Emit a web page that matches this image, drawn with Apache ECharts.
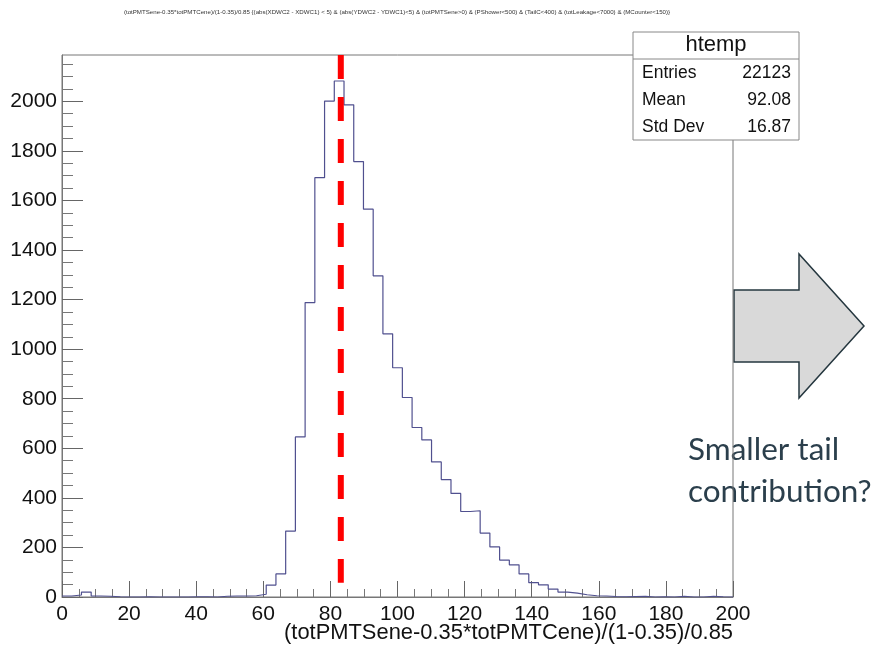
<!DOCTYPE html>
<html>
<head>
<meta charset="utf-8">
<script src="https://cdn.jsdelivr.net/npm/echarts@6/dist/echarts.min.js"></script>
<style>
  html, body { margin: 0; padding: 0; background: #ffffff; }
  #chart { width: 880px; height: 646px; }
</style>
</head>
<body>
<div id="chart"></div>
<script>
// Histogram definition: 69 equal bins spanning 0..200
const xRange = [0, 200];
const binCounts = [
  4, 8, 20, 4, 3, 1, 0, 0, 1, 0,
  0, 0, 0, 1, 1, 0, 3, 4, 4, 5,
  11, 48, 93, 266, 646, 1188, 1692, 2001, 2082, 1986,
  1757, 1565, 1296, 1062, 925, 805, 684, 634, 545, 474,
  418, 345, 348, 258, 202, 149, 130, 93, 58, 49,
  32, 20, 16, 9, 5, 4, 2, 1, 2, 3,
  0, 1, 0, 3, 0, 0, 3, 1, 0
];
const yMax = 2187;

// Axis tick labels
const xTickLabels = [0, 20, 40, 60, 80, 100, 120, 140, 160, 180, 200];
const yTickLabels = [0, 200, 400, 600, 800, 1000, 1200, 1400, 1600, 1800, 2000];

// Vertical marker at the peak position
const peakMarkerX = 83.1;
const peakMarkerBottom = 58;

// Statistics box
const statsTitle = 'htemp';
const statsLabels = ['Entries', 'Mean', 'Std Dev'];
const statsValues = ['22123', '92.08', '16.87'];

const plotTitle = '(totPMTSene-0.35*totPMTCene)/(1-0.35)/0.85 {(abs(XDWC2 - XDWC1) < 5) & (abs(YDWC2 - YDWC1)<5) & (totPMTSene>0) & (PShower<500) & (TailC<400) & (totLeakage<7000) & (MCounter<150)}';
const xAxisTitle = '(totPMTSene-0.35*totPMTCene)/(1-0.35)/0.85';
const noteLines = ['Smaller tail', 'contribution?'];

// Step outline points at the bin edges
const binWidth = (xRange[1] - xRange[0]) / binCounts.length;
const histPoints = binCounts.map((c, i) => [xRange[0] + i * binWidth, c]);
histPoints.push([xRange[1], binCounts[binCounts.length - 1]]);

// Minor ticks on the y axis every 50
const yMinorTicks = [];
for (let v = 50; v < yMax; v += 50) {
  if (v % 200 !== 0) yMinorTicks.push(v);
}

const FONT = 'Liberation Sans';
const AXIS_GREY = '#777777';

const chart = echarts.init(document.getElementById('chart'), null, { renderer: 'canvas' });

const statsBox = { left: 633, top: 32, right: 799, bottom: 140, sep: 59 };
const statsRowsY = [73, 100, 127];

const graphics = [
  {
    type: 'text', x: 397, y: 12, z: 10,
    style: { text: plotTitle, fontSize: 6.15, fontFamily: FONT, fill: '#333', align: 'center', verticalAlign: 'middle' }
  },
  {
    type: 'text', x: 733, y: 633, z: 10,
    style: { text: xAxisTitle, fontSize: 21.9, fontFamily: FONT, fill: '#111', align: 'right', verticalAlign: 'middle' }
  },
  // Block arrow
  {
    type: 'polygon', z: -1,
    shape: { points: [[734, 290], [799, 290], [799, 254], [864, 326], [799, 398], [799, 362], [734, 362]] },
    style: { fill: '#d9d9d9', stroke: '#25373f', lineWidth: 1.5 }
  },
  {
    type: 'text', x: 688, y: 450, z: -1,
    style: { text: noteLines[0], fontSize: 31.5, fontFamily: 'Lato', fill: '#2b3f4c', align: 'left', verticalAlign: 'middle' }
  },
  {
    type: 'text', x: 688, y: 492, z: -1,
    style: { text: noteLines[1], fontSize: 31.5, fontFamily: 'Lato', fill: '#2b3f4c', align: 'left', verticalAlign: 'middle' }
  },
  // Statistics box
  {
    type: 'rect', z: 100,
    shape: { x: statsBox.left, y: statsBox.top, width: statsBox.right - statsBox.left, height: statsBox.bottom - statsBox.top },
    style: { fill: '#ffffff', stroke: '#888888', lineWidth: 1 }
  },
  {
    type: 'line', z: 101,
    shape: { x1: statsBox.left, y1: statsBox.sep, x2: statsBox.right, y2: statsBox.sep },
    style: { stroke: '#888888', lineWidth: 1 }
  },
  {
    type: 'text', x: (statsBox.left + statsBox.right) / 2, y: 45, z: 101,
    style: { text: statsTitle, fontSize: 22, fontFamily: FONT, fill: '#111', align: 'center', verticalAlign: 'middle' }
  }
];
statsLabels.forEach((lab, i) => {
  graphics.push({
    type: 'text', x: 642, y: statsRowsY[i], z: 101,
    style: { text: lab, fontSize: 17.5, fontFamily: FONT, fill: '#111', align: 'left', verticalAlign: 'middle' }
  });
  graphics.push({
    type: 'text', x: 791, y: statsRowsY[i], z: 101,
    style: { text: statsValues[i], fontSize: 17.5, fontFamily: FONT, fill: '#111', align: 'right', verticalAlign: 'middle' }
  });
});

const option = {
  animation: false,
  backgroundColor: '#ffffff',
  grid: {
    left: 62, top: 55, right: 147, bottom: 49,
    show: true, borderColor: AXIS_GREY, borderWidth: 1, backgroundColor: 'transparent'
  },
  xAxis: {
    type: 'value', min: xRange[0], max: xRange[1], interval: 20, position: 'bottom',
    axisLine: { show: true, onZero: false, lineStyle: { color: AXIS_GREY, width: 1 } },
    axisTick: { show: true, inside: true, length: 16, lineStyle: { color: '#666', width: 1 } },
    minorTick: { show: true, splitNumber: 4, length: 8, lineStyle: { color: '#777', width: 1 } },
    axisLabel: {
      show: true, margin: 7, fontSize: 21, fontFamily: FONT, color: '#111',
      showMinLabel: true, showMaxLabel: true,
      formatter: v => (xTickLabels.indexOf(v) >= 0 ? String(v) : '')
    },
    splitLine: { show: false }
  },
  yAxis: [
    {
      type: 'value', min: 0, max: yMax, position: 'left',
      axisLine: { show: true, lineStyle: { color: AXIS_GREY, width: 1 } },
      axisTick: { show: true, inside: true, length: 21, customValues: yTickLabels, lineStyle: { color: '#666', width: 1 } },
      axisLabel: {
        show: true, customValues: yTickLabels, margin: 5, fontSize: 21, fontFamily: FONT, color: '#111',
        formatter: v => String(v)
      },
      splitLine: { show: false }
    },
    {
      type: 'value', min: 0, max: yMax, position: 'left',
      axisLine: { show: false },
      axisTick: { show: true, inside: true, length: 11, customValues: yMinorTicks, lineStyle: { color: '#777', width: 1 } },
      axisLabel: { show: false },
      splitLine: { show: false }
    }
  ],
  series: [
    {
      type: 'line', name: 'htemp', step: 'end', data: histPoints,
      xAxisIndex: 0, yAxisIndex: 0,
      symbol: 'none', silent: true, z: 3,
      lineStyle: { color: '#50508f', width: 1.2 }
    },
    {
      type: 'line', name: 'peak', data: [[peakMarkerX, yMax], [peakMarkerX, peakMarkerBottom]],
      xAxisIndex: 0, yAxisIndex: 0,
      symbol: 'none', silent: true, z: 5,
      lineStyle: { color: '#ff0000', width: 6, type: [24, 18], cap: 'butt' }
    }
  ],
  graphic: graphics
};

chart.setOption(option);
</script>
</body>
</html>
